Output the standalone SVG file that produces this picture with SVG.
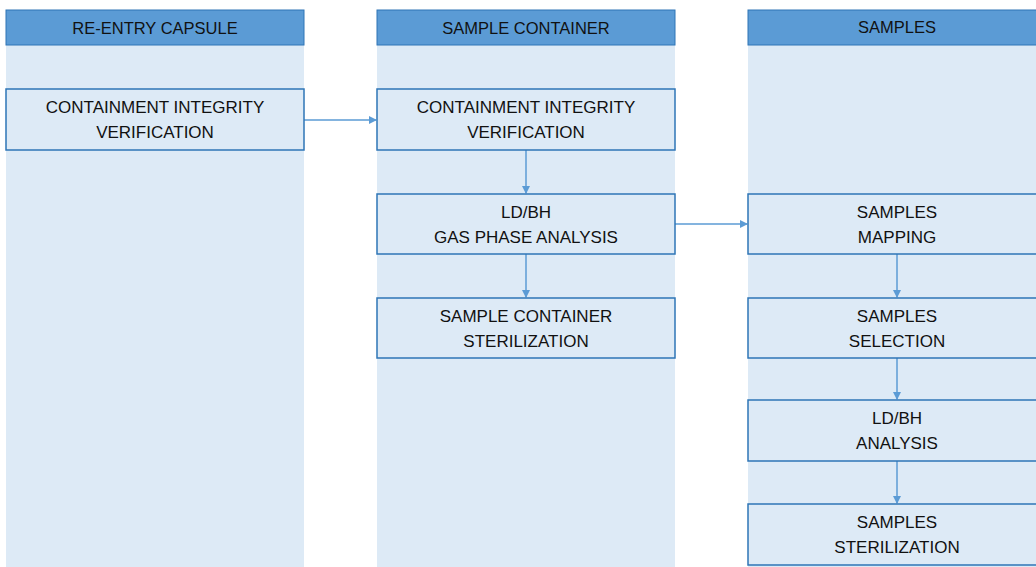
<svg xmlns="http://www.w3.org/2000/svg" width="1036" height="567" viewBox="0 0 1036 567">
  <style>
    .lane { fill: #DDEAF6; }
    .hdr { fill: #5B9BD5; stroke: #2E75B6; stroke-width: 1; }
    .box { fill: #DDEAF6; stroke: #2E75B6; stroke-width: 1.5; }
    .t { font-family: "Liberation Sans", Arial, sans-serif; font-size: 17px; fill: #111111; text-anchor: middle; }
    .h { font-size: 16.5px; }
    .conn { stroke: #5B9BD5; stroke-width: 1.5; fill: none; marker-end: url(#arr); }
  </style>
  <defs>
    <marker id="arr" markerWidth="8" markerHeight="8" refX="7" refY="4" orient="auto" markerUnits="userSpaceOnUse">
      <path d="M0,0 L8,4 L0,8 Z" fill="#5B9BD5"/>
    </marker>
  </defs>
  <rect width="1036" height="567" fill="#FFFFFF"/>

  <!-- lanes -->
  <g id="lane-capsule">
    <rect class="lane" x="6" y="45" width="298" height="522"/>
    <rect class="hdr" x="6" y="10" width="298" height="35"/>
    <text class="t h" x="155" y="34">RE-ENTRY CAPSULE</text>
  </g>
  <g id="lane-container">
    <rect class="lane" x="377" y="45" width="298" height="522"/>
    <rect class="hdr" x="377" y="10" width="298" height="35"/>
    <text class="t h" x="526" y="34">SAMPLE CONTAINER</text>
  </g>
  <g id="lane-samples">
    <rect class="lane" x="748" y="45" width="298" height="522"/>
    <rect class="hdr" x="748" y="10" width="298" height="35"/>
    <text class="t h" x="897" y="33">SAMPLES</text>
  </g>

  <!-- connectors -->
  <g id="connectors">
    <path class="conn" d="M304,120 H376"/>
    <path class="conn" d="M526,150 V193"/>
    <path class="conn" d="M526,254 V297"/>
    <path class="conn" d="M675,224 H747"/>
    <path class="conn" d="M897,254 V297"/>
    <path class="conn" d="M897,358 V399"/>
    <path class="conn" d="M897,461 V503"/>
  </g>

  <!-- nodes -->
  <g id="capsule-integrity">
    <rect class="box" x="6" y="89" width="298" height="61"/>
    <text class="t" x="155" y="113">CONTAINMENT INTEGRITY</text>
    <text class="t" x="155" y="138">VERIFICATION</text>
  </g>
  <g id="container-integrity">
    <rect class="box" x="377" y="89" width="298" height="61"/>
    <text class="t" x="526" y="113">CONTAINMENT INTEGRITY</text>
    <text class="t" x="526" y="138">VERIFICATION</text>
  </g>
  <g id="gas-phase">
    <rect class="box" x="377" y="194" width="298" height="60"/>
    <text class="t" x="526" y="218">LD/BH</text>
    <text class="t" x="526" y="243">GAS PHASE ANALYSIS</text>
  </g>
  <g id="container-sterilization">
    <rect class="box" x="377" y="298" width="298" height="60"/>
    <text class="t" x="526" y="322">SAMPLE CONTAINER</text>
    <text class="t" x="526" y="347">STERILIZATION</text>
  </g>
  <g id="samples-mapping">
    <rect class="box" x="748" y="194" width="298" height="60"/>
    <text class="t" x="897" y="218">SAMPLES</text>
    <text class="t" x="897" y="243">MAPPING</text>
  </g>
  <g id="samples-selection">
    <rect class="box" x="748" y="298" width="298" height="60"/>
    <text class="t" x="897" y="322">SAMPLES</text>
    <text class="t" x="897" y="347">SELECTION</text>
  </g>
  <g id="ldbh-analysis">
    <rect class="box" x="748" y="400" width="298" height="61"/>
    <text class="t" x="897" y="424">LD/BH</text>
    <text class="t" x="897" y="449">ANALYSIS</text>
  </g>
  <g id="samples-sterilization">
    <rect class="box" x="748" y="504" width="298" height="61"/>
    <text class="t" x="897" y="528">SAMPLES</text>
    <text class="t" x="897" y="553">STERILIZATION</text>
  </g>
</svg>
